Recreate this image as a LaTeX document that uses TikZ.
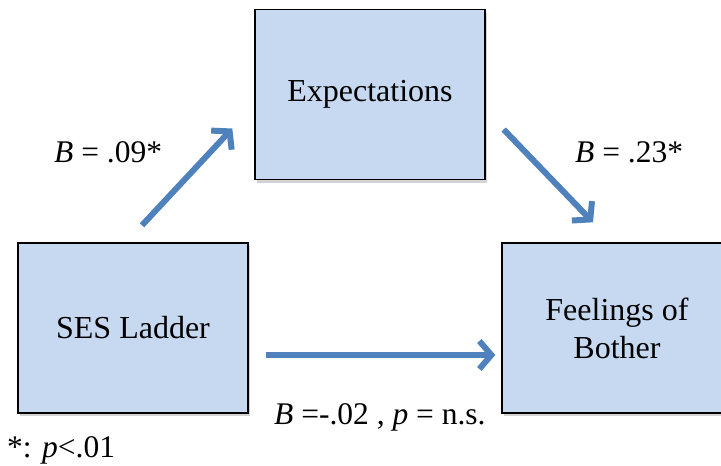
\documentclass[tikz,border=0pt]{standalone}
\usepackage{fontspec}
\setmainfont{Liberation Serif}
\usepackage{xcolor}
\definecolor{boxblue}{HTML}{C6D9F1}
\definecolor{arrowblue}{HTML}{4F81BD}
\usepackage{tikz}
\usetikzlibrary{arrows.meta,positioning,shadows}
\tikzset{
  vb/.style={draw=black, fill=boxblue, line width=1.4pt, align=center,
             minimum width=230pt, minimum height=170pt, inner sep=0pt,
             font=\fontsize{32}{38}\selectfont,
             drop shadow={opacity=0.35, shadow xshift=2pt, shadow yshift=-3pt}},
  coef/.style={anchor=base west, inner sep=0pt, font=\fontsize{31.5}{36}\selectfont},
  conn/.style={-{Straight Barb[length=12pt, width=28pt]}, draw=arrowblue,
               line width=6pt},
}
\begin{document}
\begin{tikzpicture}[x=1pt, y=-1pt, node distance=73pt and 254pt]
  \useasboundingbox (0,0) rectangle (721,466);
  \node[vb] (ses) at (133,328) {SES Ladder};
  \node[vb] (exp) at (370,94.5) {Expectations};
  \node[vb] (feel) at (617,328) {Feelings of\\Bother};
  % path coefficients
  \node[coef] (bse) at (54,162) {\textit{B} = .09*};
  \node[coef] (bef) at (575,162) {\textit{B} = .23*};
  \node[coef] (bsf) at (274,424) {\textit{B} =-.02 , \textit{p} = n.s.};
  \node[coef] (note) at (7,457) {*: \textit{p}<.01};
  \draw[conn] ([xshift=9pt,yshift=17pt]ses.north) -- ([xshift=-22pt,yshift=-34pt]exp.west);
  \draw[conn] ([xshift=18pt,yshift=-35pt]exp.east) -- ([xshift=-24pt,yshift=20pt]feel.north);
  \draw[conn] ([xshift=17pt,yshift=-27pt]ses.east) -- ([xshift=-6pt,yshift=-27pt]feel.west);
\end{tikzpicture}
\end{document}
